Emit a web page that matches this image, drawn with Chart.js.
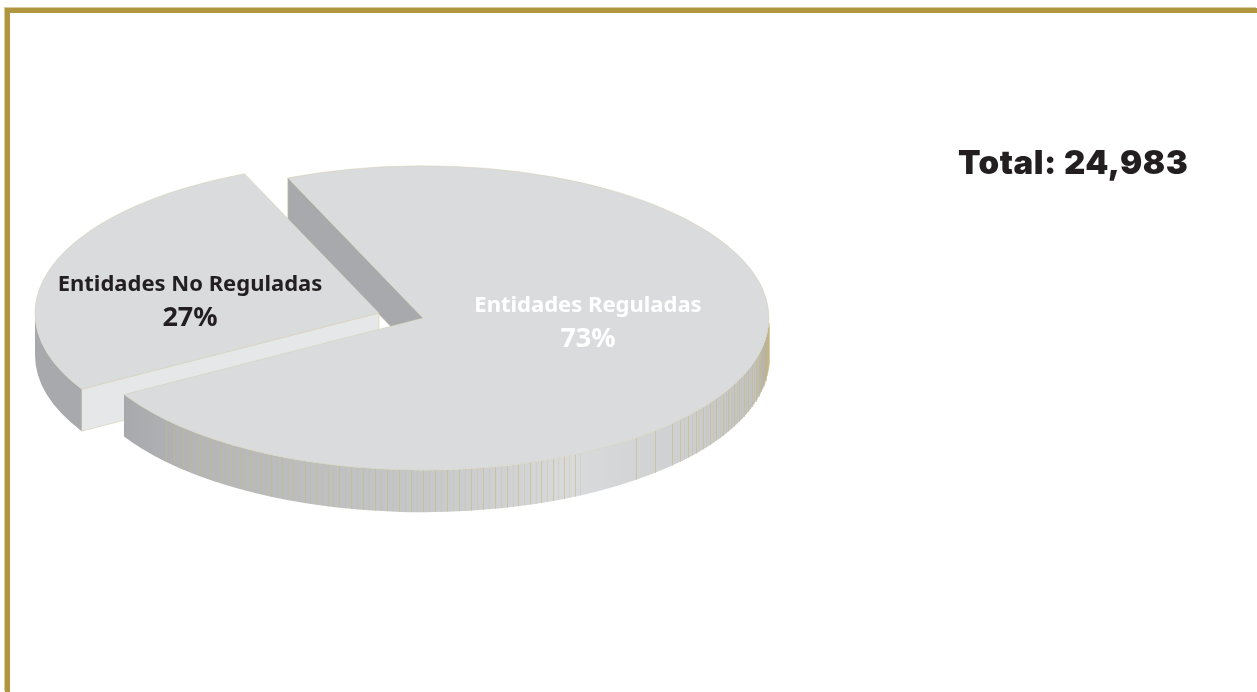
<!DOCTYPE html>
<html>
<head>
<meta charset="utf-8">
<title>Entidades</title>
<script src="https://cdn.jsdelivr.net/npm/chart.js@4"></script>
<style>
    html, body { margin: 0; padding: 0; background: #fff; overflow: hidden; }
    #frame { position: absolute; left: 5px; top: 8px; right: 0; bottom: 0; border-top: 5px solid #b0963f; border-left: 5px solid #b0963f; box-shadow: -1px -1px 0 #d8cb9f; }
    canvas { position: absolute; left: 0; top: 0; }
</style>
</head>
<body>
<div id="frame"></div>
<canvas id="pieChart" width="1257" height="692"></canvas>
<script>
const categories = ['Entidades Reguladas', 'Entidades No Reguladas'];
const shares = [73, 27];
const totalLabel = 'Total: 24,983';

const tilt = 0.44;       // squash of the disc
const depth = 42;        // height of the wall
const topColor = '#dadbdd';
const edgeColor = '#d3cba6';
const darkWall = '#a7a9ac';
const lightWall = '#e6e7e8';
// each slice is moved by hand on screen (the library's offset also grows the radius)
const sliceShift = [[0, 0], [-44, -5]];
const labelSpots = [[588, 306], [190, 285]];
const labelColors = ['#ffffff', '#231f20'];

function cutWall(ctx, x, y, r, angle, color) {
    const ex = x + Math.cos(angle) * r;
    const ey = y + Math.sin(angle) * r * tilt;
    ctx.beginPath();
    ctx.moveTo(x, y);
    ctx.lineTo(ex, ey);
    ctx.lineTo(ex, ey + depth);
    ctx.lineTo(x, y + depth);
    ctx.closePath();
    ctx.fillStyle = color;
    ctx.fill();
    ctx.strokeStyle = edgeColor;
    ctx.lineWidth = 0.5;
    ctx.stroke();
}

function outerWall(ctx, x, y, r, a0, a1, fill) {
    ctx.beginPath();
    ctx.ellipse(x, y, r, r * tilt, 0, a0, a1);
    ctx.ellipse(x, y + depth, r, r * tilt, 0, a1, a0, true);
    ctx.closePath();
    ctx.fillStyle = fill;
    ctx.fill();
}

// vertical seams on the front of the big slice
function seams(ctx, x, y, r) {
    for (let deg = 2; deg <= 138; deg++) {
        if (deg > 52 && deg < 63) continue;
        if (deg > 42 && deg <= 52 && deg % 4) continue;
        const a = deg * Math.PI / 180;
        const sx = Math.round(x + Math.cos(a) * r) + 0.5;
        const sy = y + Math.sin(a) * r * tilt;
        ctx.beginPath();
        ctx.moveTo(sx, sy);
        ctx.lineTo(sx, sy + depth);
        ctx.strokeStyle = deg % 2 ? 'rgba(200,185,130,0.25)' : 'rgba(200,185,130,0.6)';
        ctx.lineWidth = 1;
        ctx.stroke();
    }
}

const fakeDepthPlugin = {
    id: 'fakeDepth',
    afterDatasetsUpdate(chart) {
        // the pulled out slice is drawn a hair smaller in the original
        chart.getDatasetMeta(0).data[1].outerRadius -= 2;
    },
    beforeDatasetsDraw(chart) {
        const ctx = chart.ctx;
        const [big, small] = chart.getDatasetMeta(0).data;
        const sx = small.x + sliceShift[1][0];
        const sy = small.y + sliceShift[1][1];

        ctx.save();
        cutWall(ctx, big.x, big.y, big.outerRadius, big.startAngle, darkWall);
        cutWall(ctx, sx, sy, small.outerRadius, small.startAngle, lightWall);
        outerWall(ctx, sx, sy, small.outerRadius, small.startAngle, Math.PI, darkWall);

        const grad = ctx.createLinearGradient(big.x - big.outerRadius * 0.86, 0, big.x + big.outerRadius, 0);
        grad.addColorStop(0, '#a7a9ac');
        grad.addColorStop(0.11, '#b3b5b7');
        grad.addColorStop(0.46, '#c6c7c9');
        grad.addColorStop(0.7, '#d9dadc');
        grad.addColorStop(0.86, '#cfd0d2');
        grad.addColorStop(0.98, '#c0c1c3');
        grad.addColorStop(1, '#a9a9a4');
        outerWall(ctx, big.x, big.y, big.outerRadius, 0, big.endAngle, grad);
        seams(ctx, big.x, big.y, big.outerRadius);
        ctx.restore();

        // flat tops, drawn by the arc elements under a squashed transform
        chart.getDatasetMeta(0).data.forEach((arc, i) => {
            ctx.save();
            ctx.translate(arc.x + sliceShift[i][0], arc.y + sliceShift[i][1]);
            ctx.scale(1, tilt);
            ctx.translate(-arc.x, -arc.y);
            arc.draw(ctx);
            ctx.restore();
        });
        return false;
    },
    afterDraw(chart) {
        const ctx = chart.ctx;
        ctx.save();
        ctx.textAlign = 'center';
        ctx.textBaseline = 'middle';
        categories.forEach((name, i) => {
            ctx.fillStyle = labelColors[i];
            ctx.font = '700 22px "Noto Sans"';
            ctx.fillText(name, labelSpots[i][0], labelSpots[i][1]);
            ctx.font = '700 27px "Noto Sans"';
            ctx.fillText(shares[i] + '%', labelSpots[i][0], labelSpots[i][1] + 33);
        });
        ctx.textAlign = 'left';
        ctx.fillStyle = '#231f20';
        ctx.font = '900 33px Inter';
        ctx.letterSpacing = '0.5px';
        ctx.fillText(totalLabel, 958, 164);
        ctx.restore();
    }
};

new Chart(document.getElementById('pieChart'), {
    type: 'pie',
    data: {
        labels: categories,
        datasets: [{
            data: shares,
            backgroundColor: topColor,
            borderColor: edgeColor,
            borderWidth: 0.6
        }]
    },
    options: {
        responsive: false,
        animation: false,
        events: [],
        rotation: -23,
        radius: 346,
        layout: { padding: { right: 411, bottom: 56 } },
        plugins: {
            legend: { display: false },
            tooltip: { enabled: false }
        }
    },
    plugins: [fakeDepthPlugin]
});
</script>
</body>
</html>
